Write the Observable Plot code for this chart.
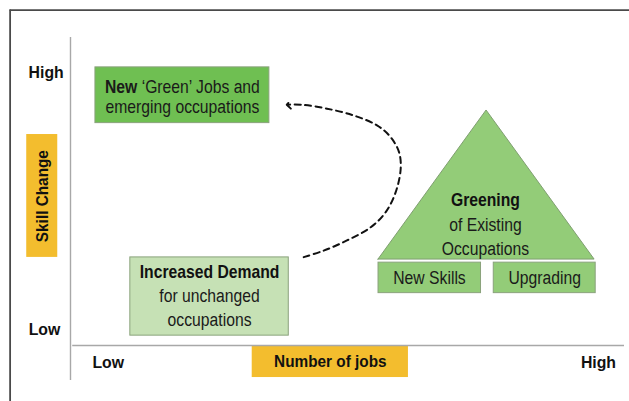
<!DOCTYPE html>
<html>
<head>
<meta charset="utf-8">
<script src="https://cdn.jsdelivr.net/npm/d3@7"></script>
<script src="https://cdn.jsdelivr.net/npm/@observablehq/plot@0.6"></script>
<style>
  html, body { margin: 0; padding: 0; background: #fff; }
  #chart svg { display: block; }
</style>
</head>
<body>
<div id="chart"></div>
<script>
// ---- Data (conceptual units: Number of jobs 0–100 across, Skill change 0–100 up) ----
const boxNames   = ["New ‘Green’ Jobs", "Increased Demand", "New Skills", "Upgrading"];
const boxJobsLo  = [4.5, 10.8, 55.6, 76.4];
const boxJobsHi  = [35.9, 39.4, 74.1, 94.8];
const boxSkillLo = [72.2, 3.2, 17.0, 17.0];
const boxSkillHi = [90.3, 28.6, 26.9, 26.9];
const boxKind    = ["new", "demand", "greening", "greening"];

const triJobs    = [55.6, 75.1, 94.6];
const triSkillLo = [27.9, 27.9, 27.9];
const triSkillHi = [27.9, 76.3, 27.9];

const pathJobs  = [42.1, 45.7, 49.9, 54.2, 56.9, 58.7, 59.6, 59.3, 57.8, 55.4, 51.1, 46.3, 42.1, 39.4];
const pathSkill = [28.7, 30.8, 34.1, 38.4, 43.3, 49.8, 57.4, 62.8, 67.6, 71.4, 74.7, 76.9, 78.1, 78.2];

const labelText  = ["New ‘Green’ Jobs and", "emerging occupations",
                    "Increased Demand", "for unchanged", "occupations",
                    "Greening", "of Existing", "Occupations",
                    "New Skills", "Upgrading"];
const labelJobs  = [20.2, 20.2, 25.1, 25.1, 25.1, 74.9, 74.9, 74.9, 64.8, 85.6];
const labelSkill = [84.0, 77.4, 23.8, 15.9, 8.3, 47.1, 39.0, 31.2, 21.9, 21.9];
const labelBold  = [false, false, true, false, false, true, false, false, false, false];
const boldPrefix = [{line: "New ‘Green’ Jobs and", prefix: "New"}];

const tickText  = ["High", "Low", "Low", "High"];
const tickJobs  = [-4.4, -4.7, 6.8, 95.3];
const tickSkill = [88.7, 5.2, -5.4, -5.5];

const axisTitles = ["Skill Change", "Number of jobs"];
const titleBoxJobs  = [[-7.9, -2.3], [32.8, 61.0]];
const titleBoxSkill = [[28.6, 68.5], [-10.4, -0.3]];
const titleJobs  = [-5.1, 46.9];
const titleSkill = [48.5, -5.4];

// ---- Build tables ----
const boxes = boxNames.map((n, i) => ({name: n, x1: boxJobsLo[i], x2: boxJobsHi[i], y1: boxSkillLo[i], y2: boxSkillHi[i], kind: boxKind[i]}));
const tri = triJobs.map((x, i) => ({x, y1: triSkillLo[i], y2: triSkillHi[i]}));
const path = pathJobs.map((x, i) => ({x, y: pathSkill[i]}));
const labels = labelText.map((t, i) => ({t, x: labelJobs[i], y: labelSkill[i], bold: labelBold[i]}));
const ticks = tickText.map((t, i) => ({t, x: tickJobs[i], y: tickSkill[i]}));
const titleBoxes = axisTitles.map((t, i) => ({t, x1: titleBoxJobs[i][0], x2: titleBoxJobs[i][1], y1: titleBoxSkill[i][0], y2: titleBoxSkill[i][1]}));
const titles = axisTitles.map((t, i) => ({t, x: titleJobs[i], y: titleSkill[i], rotate: i === 0 ? -90 : 0}));

const FONT = "'Liberation Sans', Arial, sans-serif";
const fillOf = {new: "#6fbf52", demand: "#c6e1b5", greening: "#93cc78"};

const chart = Plot.plot({
  width: 629,
  height: 401,
  margin: 0,
  x: {domain: [0, 100], range: [70, 624], axis: null},
  y: {domain: [0, 100], range: [345, 37], axis: null},
  style: {background: "#fff", fontFamily: FONT, color: "#111"},
  marks: [
    // outer frame (top & left)
    Plot.ruleY([108.9], {x1: -10.9, x2: 102, stroke: "#4a4a4a", strokeWidth: 1.8}),
    Plot.ruleX([-10.9], {y1: 108.9, y2: -20, stroke: "#4a4a4a", strokeWidth: 1.8}),
    // axis title boxes
    Plot.rect(titleBoxes, {x1: "x1", x2: "x2", y1: "y1", y2: "y2", fill: "#f3bd2e"}),
    // axes
    Plot.ruleX([0], {y1: -11.4, y2: 100, stroke: "#a8a8a8", strokeWidth: 1.4}),
    Plot.ruleY([0], {x1: 0.4, x2: 100, stroke: "#a8a8a8", strokeWidth: 1.4}),
    // triangle
    Plot.areaY(tri, {x: "x", y1: "y1", y2: "y2", fill: "#93cc78", stroke: "#7f9f70", strokeWidth: 1}),
    // boxes
    Plot.rect(boxes, {x1: "x1", x2: "x2", y1: "y1", y2: "y2", fill: d => fillOf[d.kind], stroke: "#8aa27c", strokeWidth: 1}),
    // dashed arrow
    Plot.line(path, {x: "x", y: "y", curve: "catmull-rom", stroke: "#111", strokeWidth: 2, strokeDasharray: "6,4.5", markerEnd: "arrow"}),
    // box labels
    Plot.text(labels.filter(d => !d.bold), {x: "x", y: "y", text: "t", fontSize: 18.5, fill: "#1a1a1a", fontWeight: "normal"}),
    Plot.text(labels.filter(d => d.bold), {x: "x", y: "y", text: "t", fontSize: 18.5, fill: "#111", fontWeight: "bold"}),
    // ticks
    Plot.text(ticks, {x: "x", y: "y", text: "t", fontSize: 17, fontWeight: "bold", fill: "#111"}),
    // axis titles
    Plot.text(titles, {x: "x", y: "y", text: "t", rotate: "rotate", fontSize: 16.5, fontWeight: "bold", fill: "#111"})
  ]
});

// bold prefix within a line
chart.querySelectorAll("text").forEach(el => {
  boldPrefix.forEach(({line, prefix}) => {
    if (el.textContent === line) {
      const rest = line.slice(prefix.length);
      el.textContent = "";
      const b = document.createElementNS("http://www.w3.org/2000/svg", "tspan");
      b.setAttribute("font-weight", "bold");
      b.textContent = prefix;
      const r = document.createElementNS("http://www.w3.org/2000/svg", "tspan");
      r.textContent = rest;
      el.appendChild(b); el.appendChild(r);
    }
  });
});

document.getElementById("chart").appendChild(chart);

// emulate the narrow face of the original (Arial Narrow) by condensing glyphs horizontally
const condenseBold = new Set([...tickText, ...axisTitles]);
chart.querySelectorAll("text").forEach(el => {
  const k = condenseBold.has(el.textContent) ? 0.93 : 0.85;
  const bb = el.getBBox();
  const cx = bb.x + bb.width / 2;
  const t = el.getAttribute("transform") || "";
  el.setAttribute("transform", `${t} translate(${cx},0) scale(${k},1) translate(${-cx},0)`);
});
</script>
</body>
</html>
